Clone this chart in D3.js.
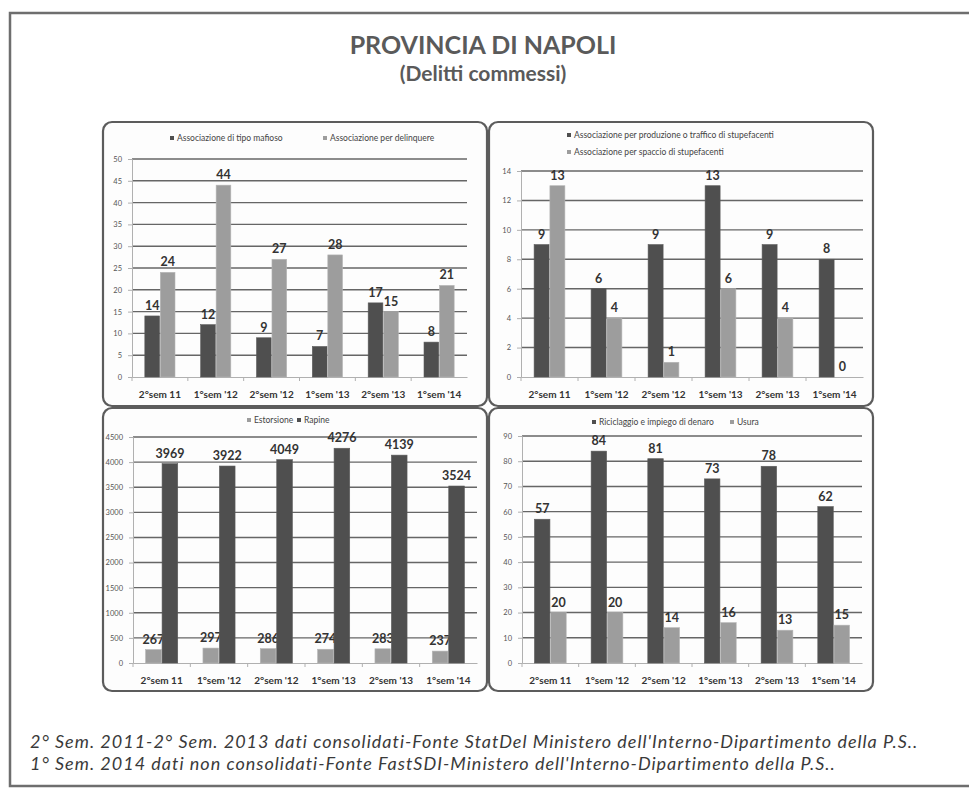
<!DOCTYPE html>
<html>
<head>
<meta charset="utf-8">
<script src="https://cdn.jsdelivr.net/npm/d3@7"></script>
<style>
  body { margin: 0; background: #fff; }
  svg { display: block; font-family: Lato, "Open Sans", sans-serif; }
</style>
</head>
<body>
<div id="chart"></div>
<script>
const width = 969;
const height = 788;

// data
const categories = ["2°sem 11", "1°sem '12", "2°sem '12", "1°sem '13", "2°sem '13", "1°sem '14"];
const mafioso = [14, 12, 9, 7, 17, 8];
const delinquere = [24, 44, 27, 28, 15, 21];
const produzione = [9, 6, 9, 13, 9, 8];
const spaccio = [13, 4, 1, 6, 4, 0];
const estorsione = [267, 297, 286, 274, 283, 237];
const rapine = [3969, 3922, 4049, 4276, 4139, 3524];
const riciclaggio = [57, 84, 81, 73, 78, 62];
const usura = [20, 20, 14, 16, 13, 15];
const footNotes = [
  "2° Sem. 2011-2° Sem. 2013 dati consolidati-Fonte StatDel Ministero dell'Interno-Dipartimento della P.S..",
  "1° Sem. 2014 dati non consolidati-Fonte FastSDI-Ministero dell'Interno-Dipartimento della P.S.."
];

const DARK = "#4f4f4f";
const LIGHT = "#9d9d9d";

const svg = d3.select("#chart").append("svg")
  .attr("width", width)
  .attr("height", height);

// outer frame
svg.append("rect")
  .attr("x", 10).attr("y", 13)
  .attr("width", 975).attr("height", 773)
  .attr("fill", "none")
  .attr("stroke", "#6e6e6e")
  .attr("stroke-width", 2.5);

// title
svg.append("text")
  .attr("x", 483).attr("y", 54)
  .attr("text-anchor", "middle")
  .attr("font-size", 25).attr("font-weight", "bold")
  .attr("fill", "#5a5a5a")
  .text("PROVINCIA DI NAPOLI");
svg.append("text")
  .attr("x", 483).attr("y", 81)
  .attr("text-anchor", "middle")
  .attr("font-size", 21).attr("font-weight", "bold")
  .attr("fill", "#5a5a5a")
  .text("(Delitti commessi)");

const panels = [
  {
    box: [103, 122, 384, 284], plot: [132, 159, 467, 377], max: 50, step: 5, pad: 0.46,
    series: [{ name: "Associazione di tipo mafioso", values: mafioso, color: DARK },
             { name: "Associazione per delinquere", values: delinquere, color: LIGHT }],
    legend: [[170, 141], [323, 141]]
  },
  {
    box: [489, 122, 384, 284], plot: [521, 171, 863, 377], max: 14, step: 2, pad: 0.46,
    series: [{ name: "Associazione per produzione o traffico di stupefacenti", values: produzione, color: DARK },
             { name: "Associazione per spaccio di stupefacenti", values: spaccio, color: LIGHT }],
    legend: [[567, 138], [567, 155]]
  },
  {
    box: [103, 408, 384, 283], plot: [133, 437, 477, 663], max: 4500, step: 500, pad: 0.44,
    series: [{ name: "Estorsione", values: estorsione, color: LIGHT },
             { name: "Rapine", values: rapine, color: DARK }],
    legend: [[247, 423], [297, 423]]
  },
  {
    box: [489, 408, 384, 283], plot: [522, 436, 862, 663], max: 90, step: 10, pad: 0.44,
    series: [{ name: "Riciclaggio e impiego di denaro", values: riciclaggio, color: DARK },
             { name: "Usura", values: usura, color: LIGHT }],
    legend: [[592, 425], [730, 425]]
  }
];

panels.forEach(p => {
  const g = svg.append("g");
  const [bx, by, bw, bh] = p.box;
  const [x0, y0, x1, y1] = p.plot;

  g.append("rect")
    .attr("x", bx).attr("y", by)
    .attr("width", bw).attr("height", bh)
    .attr("rx", 9)
    .attr("fill", "#fdfdfd")
    .attr("stroke", "#5c5c5c")
    .attr("stroke-width", 2.2);

  const x = d3.scaleBand()
    .domain(categories)
    .range([x0, x1])
    .paddingInner(p.pad)
    .paddingOuter(p.pad / 2);

  const xs = d3.scaleBand()
    .domain(d3.range(p.series.length))
    .range([0, x.bandwidth()])
    .paddingInner(0.05);

  const y = d3.scaleLinear().domain([0, p.max]).range([y1, y0]);
  const ticks = d3.range(0, p.max + p.step / 2, p.step);

  // gridlines
  g.selectAll(".grid")
    .data(ticks.filter(t => t > 0))
    .join("line")
    .attr("x1", x0).attr("x2", x1)
    .attr("y1", d => y(d)).attr("y2", d => y(d))
    .attr("stroke", "#666")
    .attr("stroke-width", 1.4);

  // y axis
  const yAxis = g.append("g")
    .attr("transform", `translate(${x0},0)`)
    .call(d3.axisLeft(y).tickValues(ticks).tickFormat(d3.format("d")).tickSize(4).tickPadding(6));
  yAxis.select(".domain").attr("stroke", "#b0b0b0");
  yAxis.selectAll(".tick line").attr("stroke", "#b0b0b0");
  yAxis.selectAll(".tick text")
    .attr("font-size", 7.5)
    .attr("font-family", "Lato, sans-serif")
    .attr("fill", "#555");

  // x axis
  const xAxis = g.append("g")
    .attr("transform", `translate(0,${y1})`)
    .call(d3.axisBottom(x).tickSize(0).tickPadding(14));
  xAxis.select(".domain").attr("stroke", "#b0b0b0");
  xAxis.selectAll(".tick text")
    .attr("font-size", 10)
    .attr("font-weight", "bold")
    .attr("font-family", "Lato, sans-serif")
    .attr("fill", "#333");
  // category separators
  g.selectAll(".sep")
    .data(categories)
    .join("line")
    .attr("x1", d => x(d) - x.step() * x.paddingInner() / 2)
    .attr("x2", d => x(d) - x.step() * x.paddingInner() / 2)
    .attr("y1", y1).attr("y2", y1 + 4)
    .attr("stroke", "#b0b0b0");

  // bars
  p.series.forEach((s, i) => {
    g.selectAll(null)
      .data(s.values)
      .join("rect")
      .attr("x", (d, j) => x(categories[j]) + xs(i))
      .attr("y", d => y(d))
      .attr("width", xs.bandwidth())
      .attr("height", d => y1 - y(d))
      .attr("fill", s.color)
      .attr("stroke", d3.color(s.color).brighter(0.4))
      .attr("stroke-width", 0.6);

    g.selectAll(null)
      .data(s.values)
      .join("text")
      .attr("x", (d, j) => x(categories[j]) + xs(i) + xs.bandwidth() / 2)
      .attr("y", d => y(d) - 6)
      .attr("text-anchor", "middle")
      .attr("font-size", 12.5)
      .attr("font-weight", "bold")
      .attr("fill", "#333")
      .text(d => d);

    // legend
    const [lx, ly] = p.legend[i];
    g.append("rect")
      .attr("x", lx).attr("y", ly - 5)
      .attr("width", 4).attr("height", 4)
      .attr("fill", s.color);
    g.append("text")
      .attr("x", lx + 7).attr("y", ly)
      .attr("font-size", 8.5)
      .attr("fill", "#444")
      .text(s.name);
  });
});

// footnotes
svg.selectAll(".foot")
  .data(footNotes)
  .join("text")
  .attr("x", 30)
  .attr("y", (d, i) => 748 + i * 22)
  .attr("font-size", 18)
  .attr("letter-spacing", 1)
  .attr("font-style", "italic")
  .attr("fill", "#3a3a3a")
  .text(d => d);
</script>
</body>
</html>
